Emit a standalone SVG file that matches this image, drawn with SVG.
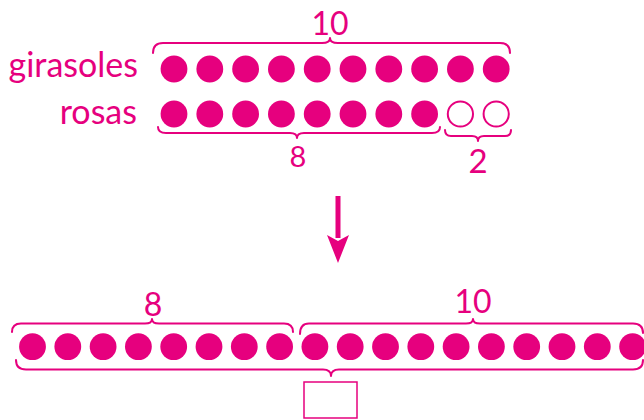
<svg xmlns="http://www.w3.org/2000/svg" width="644" height="420" viewBox="0 0 644 420">
<style>
.t{font-family:Lato,"Open Sans","Liberation Sans",sans-serif;fill:#E6007E}
.w{font-size:34px;text-anchor:end}
.n{text-anchor:middle}
.d{fill:#E6007E}
.o{fill:#fff;stroke:#E6007E;stroke-width:2}
.b{fill:none;stroke:#E6007E;stroke-width:2;stroke-linecap:round;stroke-linejoin:round}
</style>
<defs>
<circle id="dot" r="13.4" class="d"/>
</defs>
<rect width="644" height="420" fill="#fff"/>
<g id="labels">
<text class="t w" x="138" y="77">girasoles</text>
<text class="t w" x="137" y="124">rosas</text>
</g>
<g id="row-girasoles">
<use href="#dot" x="174" y="69"/><use href="#dot" x="209.8" y="69"/><use href="#dot" x="245.6" y="69"/><use href="#dot" x="281.4" y="69"/><use href="#dot" x="317.2" y="69"/><use href="#dot" x="353" y="69"/><use href="#dot" x="388.8" y="69"/><use href="#dot" x="424.6" y="69"/><use href="#dot" x="460.4" y="69"/><use href="#dot" x="496.2" y="69"/>
</g>
<g id="row-rosas">
<use href="#dot" x="174" y="114"/><use href="#dot" x="209.8" y="114"/><use href="#dot" x="245.6" y="114"/><use href="#dot" x="281.4" y="114"/><use href="#dot" x="317.2" y="114"/><use href="#dot" x="353" y="114"/><use href="#dot" x="388.8" y="114"/><use href="#dot" x="424.6" y="114"/>
<circle class="o" cx="460.4" cy="114" r="12.6"/><circle class="o" cx="496.2" cy="114" r="12.6"/>
</g>
<g id="braces-top">
<path class="b" d="M153,53 Q153,43 163,43 L322,43 Q330,43 330,38 Q330,43 338,43 L500,43 Q510,43 510,53"/>
<path class="b" d="M158,127 Q158,133 166,133 L290,133 Q297,133 297,138 Q297,133 304,133 L432,133 Q440,133 440,127"/>
<path class="b" d="M445,130 Q445,136 451,136 L472,136 Q478,136 478,141 Q478,136 484,136 L505,136 Q511,136 511,130"/>
<text class="t n" x="330" y="35" font-size="32">10</text>
<text class="t n" x="298" y="167" font-size="29">8</text>
<text class="t n" x="478" y="173" font-size="33">2</text>
</g>
<g id="arrow">
<rect x="335.5" y="196" width="5" height="42" class="d"/>
<polygon class="d" points="327,235 338,241 349,235 338,263"/>
</g>
<g id="row-combined">
<use href="#dot" x="32.5" y="346.7"/><use href="#dot" x="67.8" y="346.7"/><use href="#dot" x="103.1" y="346.7"/><use href="#dot" x="138.4" y="346.7"/><use href="#dot" x="173.7" y="346.7"/><use href="#dot" x="209" y="346.7"/><use href="#dot" x="244.3" y="346.7"/><use href="#dot" x="279.6" y="346.7"/><use href="#dot" x="314.9" y="346.7"/><use href="#dot" x="350.2" y="346.7"/><use href="#dot" x="385.5" y="346.7"/><use href="#dot" x="420.8" y="346.7"/><use href="#dot" x="456.1" y="346.7"/><use href="#dot" x="491.4" y="346.7"/><use href="#dot" x="526.7" y="346.7"/><use href="#dot" x="562" y="346.7"/><use href="#dot" x="597.3" y="346.7"/><use href="#dot" x="632.6" y="346.7"/>
</g>
<g id="braces-bottom">
<path class="b" d="M12,332 Q12,323.5 21,323.5 L145,323.5 Q152,323.5 152,319 Q152,323.5 159,323.5 L284,323.5 Q293,323.5 293,332"/>
<path class="b" d="M300,334 Q300,323.5 309,323.5 L466,323.5 Q473,323.5 473,319 Q473,323.5 480,323.5 L633,323.5 Q643,323.5 643,333"/>
<path class="b" d="M16,360 Q16,369.5 26,369.5 L323,369.5 Q331,369.5 331,376 Q331,369.5 339,369.5 L633,369.5 Q643,369.5 643,360"/>
<text class="t n" x="153" y="316" font-size="32">8</text>
<text class="t n" x="473" y="313" font-size="32">10</text>
</g>
<g id="answer-box">
<rect x="304" y="382" width="53" height="36" fill="#fff" stroke="#E6007E" stroke-width="1.5"/>
</g>
</svg>
